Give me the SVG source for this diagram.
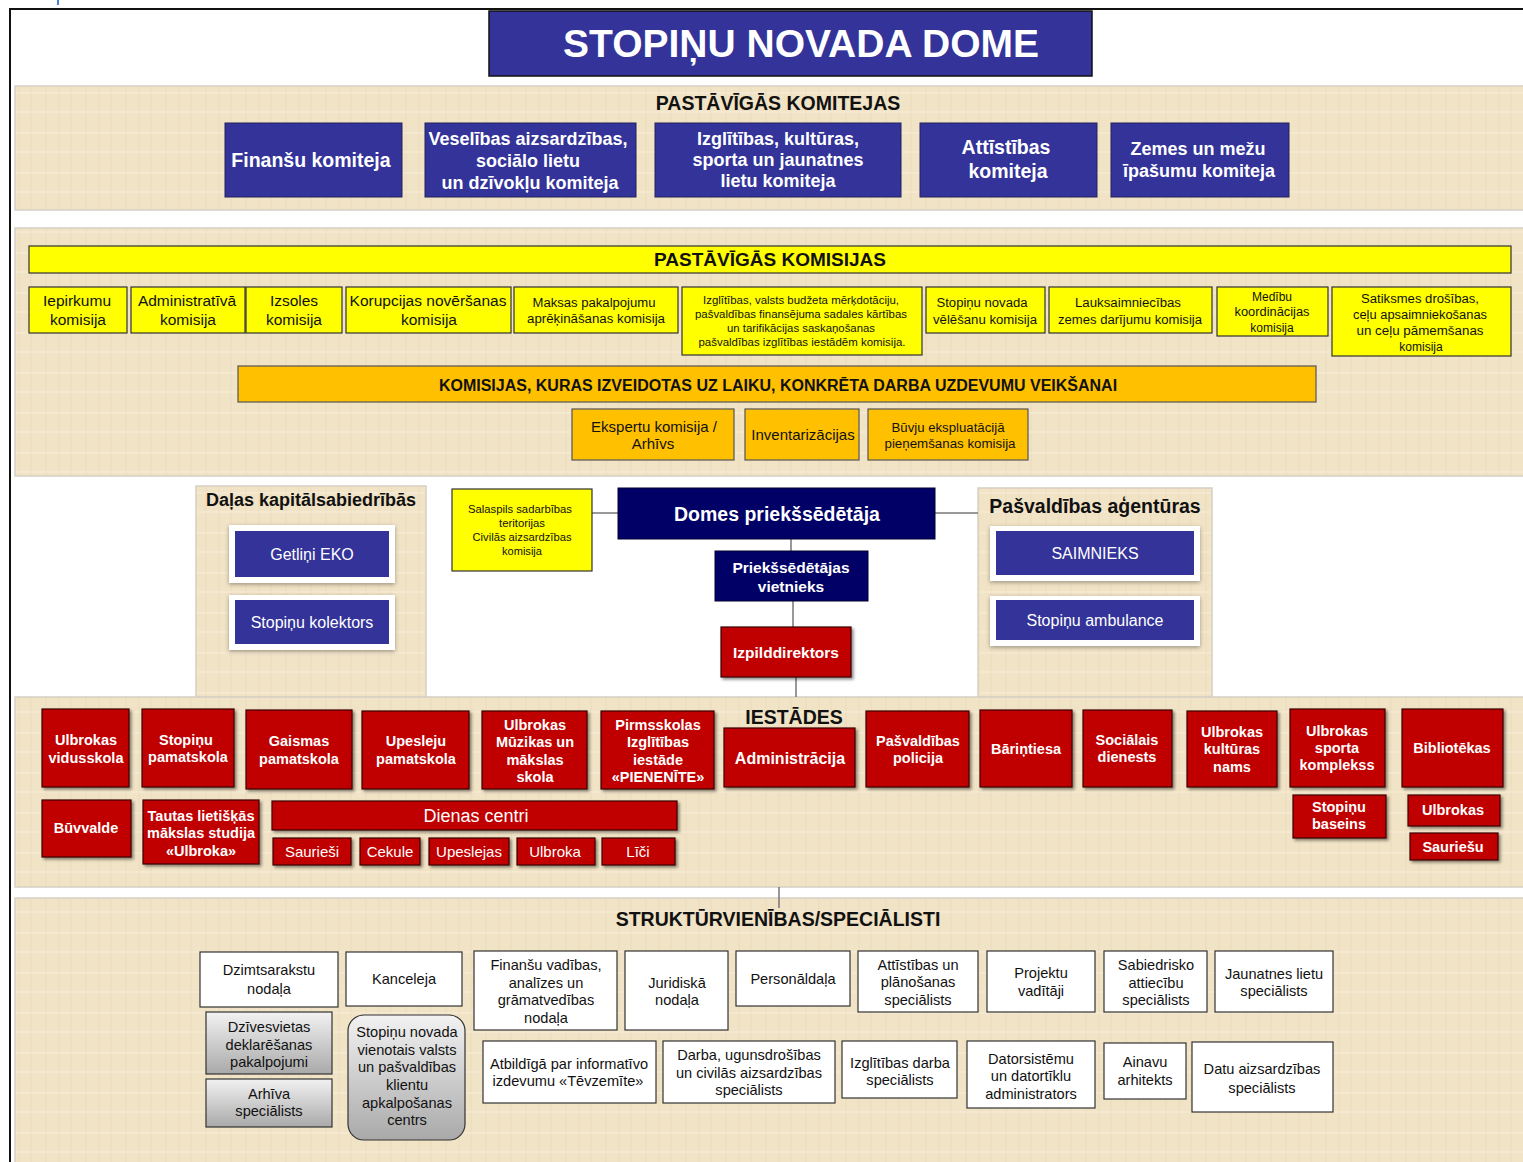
<svg xmlns="http://www.w3.org/2000/svg" width="1523" height="1162" viewBox="0 0 1523 1162">
<style>
text{font-family:"Liberation Sans",Arial,sans-serif;text-anchor:middle}
.parch{fill:url(#pp);stroke:#d6d0c4;stroke-width:1.5}
.blue{fill:#333399;stroke:#22225a;stroke-width:1}
.navy{fill:#000066;stroke:#000033;stroke-width:1}
.red{fill:#C00000;stroke:#3a0000;stroke-width:1.2;filter:url(#sh)}
.yel{fill:#FFFF00;stroke:#333;stroke-width:1.2}
.org{fill:#FFC000;stroke:#555;stroke-width:1.2}
.wht{fill:#fff;stroke:#333;stroke-width:1.2}
.gry{fill:url(#gg);stroke:#333;stroke-width:1.2}
.card{fill:#fff;filter:url(#sh2)}
.tw{fill:#fff;font-weight:bold}
.tr{fill:#fff;font-weight:bold;font-size:14.5px}
.tk{fill:#111;font-size:14.6px}
.th{fill:#111;font-weight:bold;font-size:19.5px}
.conn line{stroke:#777;stroke-width:1.5}
</style>
<defs>
<pattern id="pp" width="40" height="40" patternUnits="userSpaceOnUse">
<rect width="40" height="40" fill="#F1E3C5"/>
<path d="M6 0V40M19 0V40M31 0V40" stroke="#E5D3AF" stroke-width="1" opacity=".55"/>
<path d="M0 13H40M0 32H40" stroke="#F8EEDB" stroke-width="2" opacity=".5"/>
</pattern>
<linearGradient id="gg" x1="0" y1="0" x2="0" y2="1"><stop offset="0" stop-color="#f2f2f2"/><stop offset="1" stop-color="#a9a9a9"/></linearGradient>
<filter id="sh" x="-10%" y="-10%" width="130%" height="130%"><feDropShadow dx="2" dy="2" stdDeviation="1.5" flood-color="#000" flood-opacity=".45"/></filter>
<filter id="sh2" x="-10%" y="-10%" width="130%" height="130%"><feDropShadow dx="0" dy="1.5" stdDeviation="2" flood-color="#000" flood-opacity=".35"/></filter>
</defs>
<rect width="1523" height="1162" fill="#fff"/>
<rect x="57" y="0" width="2" height="5" fill="#4a7fd0"/>
<path d="M10 1162V9H1523" fill="none" stroke="#111" stroke-width="2"/>

<!-- section backgrounds -->
<rect class="parch" x="15" y="86" width="1515" height="124"/>
<rect class="parch" x="15" y="228" width="1515" height="248"/>
<rect class="parch" x="196" y="486" width="230" height="211"/>
<rect class="parch" x="978" y="488" width="234" height="209"/>
<rect class="parch" x="15" y="697" width="1515" height="190"/>
<rect class="parch" x="15" y="898" width="1515" height="270"/>

<g id="title"><rect x="489" y="11" width="603" height="65" fill="#333399" stroke="#111" stroke-width="1.5"/><text x="801" y="57" class="tw" font-size="39">STOPIŅU NOVADA DOME</text></g>

<g id="komitejas">
<text x="778" y="110" class="th">PASTĀVĪGĀS KOMITEJAS</text>
<g id="k1"><rect class="blue" x="225" y="123" width="177" height="74"/><text class="tw" font-size="19.5" x="311" y="167">Finanšu komiteja</text></g>
<g id="k2"><rect class="blue" x="425" y="123" width="211" height="74"/><text class="tw" font-size="18" x="528"><tspan x="528" y="145">Veselības aizsardzības,</tspan><tspan x="528" y="167">sociālo lietu</tspan><tspan x="530" y="189">un dzīvokļu komiteja</tspan></text></g>
<g id="k3"><rect class="blue" x="655" y="123" width="246" height="74"/><text class="tw" font-size="18" x="778"><tspan x="778" y="145">Izglītības, kultūras,</tspan><tspan x="778" y="166">sporta  un jaunatnes</tspan><tspan x="778" y="187">lietu komiteja</tspan></text></g>
<g id="k4"><rect class="blue" x="920" y="123" width="177" height="74"/><text class="tw" font-size="19.5" x="1006"><tspan x="1006" y="154">Attīstības</tspan><tspan x="1008" y="178">komiteja</tspan></text></g>
<g id="k5"><rect class="blue" x="1111" y="123" width="178" height="74"/><text class="tw" font-size="18" x="1199"><tspan x="1198" y="155">Zemes un mežu</tspan><tspan x="1199" y="177">īpašumu komiteja</tspan></text></g>
</g>

<g id="komisijas">
<rect class="yel" x="29" y="246" width="1482" height="27"/><text x="770" y="266" font-size="19" font-weight="bold" fill="#111">PASTĀVĪGĀS KOMISIJAS</text>
<g id="c1"><rect class="yel" x="29" y="287" width="98" height="46"/><text class="tk" style="font-size:15.5px"><tspan x="77" y="306">Iepirkumu</tspan><tspan x="78" y="325">komisija</tspan></text></g>
<g id="c2"><rect class="yel" x="131" y="287" width="114" height="46"/><text class="tk" style="font-size:15.5px"><tspan x="187" y="306">Administratīvā</tspan><tspan x="188" y="325">komisija</tspan></text></g>
<g id="c3"><rect class="yel" x="246" y="287" width="96" height="46"/><text class="tk" style="font-size:15.5px"><tspan x="294" y="306">Izsoles</tspan><tspan x="294" y="325">komisija</tspan></text></g>
<g id="c4"><rect class="yel" x="346" y="287" width="165" height="46"/><text class="tk" style="font-size:15.5px"><tspan x="428" y="306">Korupcijas novēršanas</tspan><tspan x="429" y="325">komisija</tspan></text></g>
<g id="c5"><rect class="yel" x="514" y="287" width="164" height="46"/><text class="tk" style="font-size:12px"><tspan x="594" y="307" textLength="123" lengthAdjust="spacingAndGlyphs">Maksas pakalpojumu</tspan><tspan x="596" y="323" textLength="138" lengthAdjust="spacingAndGlyphs">aprēķināšanas komisija</tspan></text></g>
<g id="c6"><rect class="yel" x="682" y="287" width="240" height="68"/><text class="tk" style="font-size:10px"><tspan x="801" y="304" textLength="196" lengthAdjust="spacingAndGlyphs">Izglītības, valsts budžeta mērķdotāciju,</tspan><tspan x="801" y="318" textLength="212" lengthAdjust="spacingAndGlyphs">pašvaldības finansējuma sadales kārtības</tspan><tspan x="801" y="332" textLength="148" lengthAdjust="spacingAndGlyphs">un tarifikācijas saskaņošanas</tspan><tspan x="802" y="346" textLength="207" lengthAdjust="spacingAndGlyphs">pašvaldības izglītības iestādēm komisija.</tspan></text></g>
<g id="c7"><rect class="yel" x="926" y="287" width="119" height="46"/><text class="tk" style="font-size:12px"><tspan x="982" y="307" textLength="91" lengthAdjust="spacingAndGlyphs">Stopiņu novada</tspan><tspan x="985" y="324" textLength="104" lengthAdjust="spacingAndGlyphs">vēlēšanu komisija</tspan></text></g>
<g id="c8"><rect class="yel" x="1049" y="287" width="163" height="46"/><text class="tk" style="font-size:12px"><tspan x="1128" y="307" textLength="106" lengthAdjust="spacingAndGlyphs">Lauksaimniecības</tspan><tspan x="1130" y="324" textLength="144" lengthAdjust="spacingAndGlyphs">zemes darījumu komisija</tspan></text></g>
<g id="c9"><rect class="yel" x="1217" y="287" width="111" height="49"/><text class="tk" style="font-size:12px"><tspan x="1272" y="301">Medību</tspan><tspan x="1272" y="316" textLength="75" lengthAdjust="spacingAndGlyphs">koordinācijas</tspan><tspan x="1272" y="332">komisija</tspan></text></g>
<g id="c10"><rect class="yel" x="1332" y="287" width="179" height="69"/><text class="tk" style="font-size:12px"><tspan x="1420" y="303" textLength="118" lengthAdjust="spacingAndGlyphs">Satiksmes drošības,</tspan><tspan x="1420" y="319" textLength="134" lengthAdjust="spacingAndGlyphs">ceļu apsaimniekošanas</tspan><tspan x="1420" y="335" textLength="127" lengthAdjust="spacingAndGlyphs">un ceļu pāmemšanas</tspan><tspan x="1421" y="351">komisija</tspan></text></g>
<rect class="org" x="238" y="366" width="1078" height="36"/><text x="778" y="391" font-size="16" font-weight="bold" fill="#111">KOMISIJAS, KURAS IZVEIDOTAS UZ LAIKU, KONKRĒTA DARBA UZDEVUMU VEIKŠANAI</text>
<g id="o1"><rect class="org" x="572" y="409" width="162" height="51"/><text class="tk" style="font-size:15px"><tspan x="654" y="432">Ekspertu komisija /</tspan><tspan x="653" y="449">Arhīvs</tspan></text></g>
<g id="o2"><rect class="org" x="745" y="409" width="114" height="51"/><text class="tk" style="font-size:15px" x="803" y="440">Inventarizācijas</text></g>
<g id="o3"><rect class="org" x="868" y="409" width="160" height="51"/><text class="tk" style="font-size:12.5px"><tspan x="948" y="432" textLength="113" lengthAdjust="spacingAndGlyphs">Būvju ekspluatācijā</tspan><tspan x="950" y="448" textLength="131" lengthAdjust="spacingAndGlyphs">pieņemšanas komisija</tspan></text></g>
</g>

<g id="connectors" class="conn">
<line x1="592" y1="513" x2="618" y2="513"/>
<line x1="935" y1="513" x2="978" y2="513"/>
<line x1="791" y1="539" x2="791" y2="551"/>
<line x1="793" y1="601" x2="793" y2="627"/>
<line x1="796" y1="677" x2="796" y2="697"/>
<line x1="779" y1="887" x2="779" y2="908"/>
</g>

<g id="kapital">
<text x="311" y="506" class="th" style="font-size:18px">Daļas kapitālsabiedrībās</text>
<g id="getlini"><rect class="card" x="229" y="525" width="166" height="58"/><rect fill="#333399" x="235" y="531" width="154" height="46"/><text x="312" y="560" font-size="16" fill="#fff">Getliņi EKO</text></g>
<g id="kolektors"><rect class="card" x="229" y="595" width="166" height="55"/><rect fill="#333399" x="235" y="600" width="154" height="44"/><text x="312" y="628" font-size="16" fill="#fff">Stopiņu kolektors</text></g>
</g>
<g id="salaspils"><rect class="yel" x="452" y="489" width="140" height="82"/><text class="tk" style="font-size:10.5px"><tspan x="520" y="513" textLength="104" lengthAdjust="spacingAndGlyphs">Salaspils sadarbības</tspan><tspan x="522" y="527" textLength="46" lengthAdjust="spacingAndGlyphs">teritorijas</tspan><tspan x="522" y="541" textLength="99" lengthAdjust="spacingAndGlyphs">Civilās aizsardzības</tspan><tspan x="522" y="555" textLength="40" lengthAdjust="spacingAndGlyphs">komisija</tspan></text></g>
<g id="domes"><rect class="navy" x="618" y="488" width="317" height="51"/><text class="tw" font-size="19.5" x="777" y="521">Domes priekšsēdētāja</text></g>
<g id="vietnieks"><rect class="navy" x="715" y="551" width="153" height="50"/><text class="tw" font-size="15.5"><tspan x="791" y="573">Priekšsēdētājas</tspan><tspan x="791" y="592">vietnieks</tspan></text></g>
<g id="izpild"><rect class="red" x="721" y="627" width="130" height="50"/><text class="tw" font-size="15.5" x="786" y="658">Izpilddirektors</text></g>
<g id="agenturas">
<text x="1095" y="513" class="th">Pašvaldības aģentūras</text>
<g id="saimnieks"><rect class="card" x="990" y="526" width="210" height="55"/><rect fill="#333399" x="996" y="531" width="198" height="44"/><text x="1095" y="559" font-size="16" fill="#fff">SAIMNIEKS</text></g>
<g id="ambulance"><rect class="card" x="990" y="596" width="210" height="50"/><rect fill="#333399" x="996" y="600" width="198" height="40"/><text x="1095" y="626" font-size="16" fill="#fff">Stopiņu ambulance</text></g>
</g>

<g id="iestades">
<text x="794" y="724" class="th">IESTĀDES</text>
<g id="i1"><rect class="red" x="42" y="709" width="87" height="78"/><text class="tr"><tspan x="86" y="745">Ulbrokas</tspan><tspan x="86" y="763">vidusskola</tspan></text></g>
<g id="i2"><rect class="red" x="142" y="709" width="92" height="78"/><text class="tr"><tspan x="186" y="745">Stopiņu</tspan><tspan x="188" y="762">pamatskola</tspan></text></g>
<g id="i3"><rect class="red" x="246" y="710" width="106" height="79"/><text class="tr"><tspan x="299" y="746">Gaismas</tspan><tspan x="299" y="764">pamatskola</tspan></text></g>
<g id="i4"><rect class="red" x="362" y="711" width="107" height="78"/><text class="tr"><tspan x="416" y="746">Upesleju</tspan><tspan x="416" y="764">pamatskola</tspan></text></g>
<g id="i5"><rect class="red" x="482" y="711" width="105" height="78"/><text class="tr"><tspan x="535" y="730">Ulbrokas</tspan><tspan x="535" y="747">Mūzikas un</tspan><tspan x="535" y="765">mākslas</tspan><tspan x="535" y="782">skola</tspan></text></g>
<g id="i6"><rect class="red" x="601" y="711" width="113" height="78"/><text class="tr"><tspan x="658" y="730">Pirmsskolas</tspan><tspan x="658" y="747">Izglītības</tspan><tspan x="658" y="765">iestāde</tspan><tspan x="658" y="782">«PIENENĪTE»</tspan></text></g>
<g id="i7"><rect class="red" x="724" y="728" width="131" height="59"/><text class="tw" font-size="16" x="790" y="764">Administrācija</text></g>
<g id="i8"><rect class="red" x="866" y="711" width="103" height="76"/><text class="tr"><tspan x="918" y="746">Pašvaldības</tspan><tspan x="918" y="763">policija</tspan></text></g>
<g id="i9"><rect class="red" x="980" y="710" width="92" height="77"/><text class="tr" x="1026" y="754">Bāriņtiesa</text></g>
<g id="i10"><rect class="red" x="1083" y="710" width="89" height="77"/><text class="tr"><tspan x="1127" y="745">Sociālais</tspan><tspan x="1127" y="762">dienests</tspan></text></g>
<g id="i11"><rect class="red" x="1187" y="711" width="90" height="76"/><text class="tr"><tspan x="1232" y="737">Ulbrokas</tspan><tspan x="1232" y="754">kultūras</tspan><tspan x="1232" y="772">nams</tspan></text></g>
<g id="i12"><rect class="red" x="1290" y="709" width="95" height="78"/><text class="tr"><tspan x="1337" y="736">Ulbrokas</tspan><tspan x="1337" y="753">sporta</tspan><tspan x="1337" y="770">komplekss</tspan></text></g>
<g id="i13"><rect class="red" x="1402" y="709" width="101" height="78"/><text class="tr" x="1452" y="753">Bibliotēkas</text></g>
<g id="i14"><rect class="red" x="42" y="800" width="89" height="57"/><text class="tr" x="86" y="833">Būvvalde</text></g>
<g id="i15"><rect class="red" x="143" y="800" width="116" height="64"/><text class="tr"><tspan x="201" y="821">Tautas lietišķās</tspan><tspan x="201" y="838">mākslas studija</tspan><tspan x="201" y="856">«Ulbroka»</tspan></text></g>
<g id="i16"><rect class="red" x="272" y="801" width="405" height="29"/><text x="476" y="822" font-size="18" fill="#fff">Dienas centri</text></g>
<g id="i17"><rect class="red" x="273" y="838" width="78" height="27"/><text x="312" y="857" font-size="15" fill="#fff">Saurieši</text></g>
<g id="i18"><rect class="red" x="360" y="838" width="60" height="27"/><text x="390" y="857" font-size="15" fill="#fff">Cekule</text></g>
<g id="i19"><rect class="red" x="429" y="838" width="80" height="27"/><text x="469" y="857" font-size="15" fill="#fff">Upeslejas</text></g>
<g id="i20"><rect class="red" x="517" y="838" width="78" height="27"/><text x="555" y="857" font-size="15" fill="#fff">Ulbroka</text></g>
<g id="i21"><rect class="red" x="602" y="838" width="73" height="27"/><text x="638" y="857" font-size="15" fill="#fff">Līči</text></g>
<g id="i22"><rect class="red" x="1293" y="795" width="93" height="43"/><text class="tr"><tspan x="1339" y="812">Stopiņu</tspan><tspan x="1339" y="829">baseins</tspan></text></g>
<g id="i23"><rect class="red" x="1408" y="795" width="92" height="31"/><text class="tr" x="1453" y="815">Ulbrokas</text></g>
<g id="i24"><rect class="red" x="1410" y="833" width="88" height="27"/><text class="tr" x="1453" y="852">Sauriešu</text></g>
</g>

<g id="struktur">
<text x="778" y="926" class="th">STRUKTŪRVIENĪBAS/SPECIĀLISTI</text>
<g id="s1"><rect class="wht" x="200" y="952" width="138" height="55"/><text class="tk"><tspan x="269" y="975">Dzimtsarakstu</tspan><tspan x="269" y="994">nodaļa</tspan></text></g>
<g id="s2"><rect class="wht" x="346" y="952" width="116" height="54"/><text class="tk" x="404" y="984">Kanceleja</text></g>
<g id="s3"><rect class="wht" x="474" y="951" width="143" height="79"/><text class="tk"><tspan x="546" y="970">Finanšu vadības,</tspan><tspan x="546" y="988">analīzes un</tspan><tspan x="546" y="1005">grāmatvedības</tspan><tspan x="546" y="1023">nodaļa</tspan></text></g>
<g id="s4"><rect class="wht" x="625" y="951" width="103" height="79"/><text class="tk"><tspan x="677" y="988">Juridiskā</tspan><tspan x="677" y="1005">nodaļa</tspan></text></g>
<g id="s5"><rect class="wht" x="736" y="951" width="114" height="55"/><text class="tk" x="793" y="984">Personāldaļa</text></g>
<g id="s6"><rect class="wht" x="858" y="951" width="120" height="61"/><text class="tk"><tspan x="918" y="970">Attīstības un</tspan><tspan x="918" y="987">plānošanas</tspan><tspan x="918" y="1005">speciālists</tspan></text></g>
<g id="s7"><rect class="wht" x="987" y="951" width="108" height="61"/><text class="tk"><tspan x="1041" y="978">Projektu</tspan><tspan x="1041" y="996">vadītāji</tspan></text></g>
<g id="s8"><rect class="wht" x="1104" y="951" width="103" height="61"/><text class="tk"><tspan x="1156" y="970">Sabiedrisko</tspan><tspan x="1156" y="988">attiecību</tspan><tspan x="1156" y="1005">speciālists</tspan></text></g>
<g id="s9"><rect class="wht" x="1215" y="951" width="118" height="61"/><text class="tk"><tspan x="1274" y="979">Jaunatnes lietu</tspan><tspan x="1274" y="996">speciālists</tspan></text></g>
<g id="s10"><rect class="gry" x="206" y="1012" width="126" height="62"/><text class="tk"><tspan x="269" y="1032">Dzīvesvietas</tspan><tspan x="269" y="1050">deklarēšanas</tspan><tspan x="269" y="1067">pakalpojumi</tspan></text></g>
<g id="s11"><rect class="gry" x="206" y="1079" width="126" height="48"/><text class="tk"><tspan x="269" y="1099">Arhīva</tspan><tspan x="269" y="1116">speciālists</tspan></text></g>
<g id="s12"><rect class="gry" x="348" y="1015" width="117" height="125" rx="16"/><text class="tk"><tspan x="407" y="1037">Stopiņu novada</tspan><tspan x="407" y="1055">vienotais valsts</tspan><tspan x="407" y="1072">un pašvaldības</tspan><tspan x="407" y="1090">klientu</tspan><tspan x="407" y="1108">apkalpošanas</tspan><tspan x="407" y="1125">centrs</tspan></text></g>
<g id="s13"><rect class="wht" x="483" y="1041" width="173" height="62"/><text class="tk"><tspan x="569" y="1069">Atbildīgā par informatīvo</tspan><tspan x="568" y="1086">izdevumu «Tēvzemīte»</tspan></text></g>
<g id="s14"><rect class="wht" x="663" y="1041" width="172" height="62"/><text class="tk"><tspan x="749" y="1060">Darba, ugunsdrošības</tspan><tspan x="749" y="1078">un civilās aizsardzības</tspan><tspan x="749" y="1095">speciālists</tspan></text></g>
<g id="s15"><rect class="wht" x="842" y="1041" width="115" height="57"/><text class="tk"><tspan x="900" y="1068">Izglītības darba</tspan><tspan x="900" y="1085">speciālists</tspan></text></g>
<g id="s16"><rect class="wht" x="967" y="1041" width="128" height="67"/><text class="tk"><tspan x="1031" y="1064">Datorsistēmu</tspan><tspan x="1031" y="1081">un datortīklu</tspan><tspan x="1031" y="1099">administrators</tspan></text></g>
<g id="s17"><rect class="wht" x="1104" y="1043" width="82" height="56"/><text class="tk"><tspan x="1145" y="1067">Ainavu</tspan><tspan x="1145" y="1085">arhitekts</tspan></text></g>
<g id="s18"><rect class="wht" x="1192" y="1042" width="141" height="70"/><text class="tk"><tspan x="1262" y="1074">Datu aizsardzības</tspan><tspan x="1262" y="1093">speciālists</tspan></text></g>
</g>
</svg>
